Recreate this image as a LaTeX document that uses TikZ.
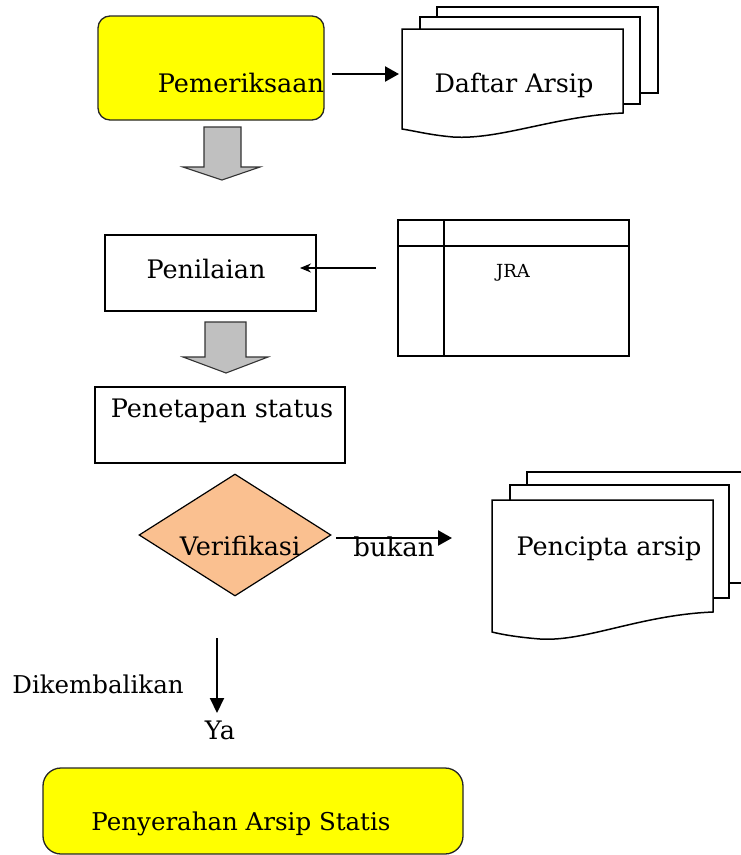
\documentclass[tikz,border=0pt]{standalone}
\usepackage{fontspec}
\setmainfont{DejaVu Serif}
\usepackage{tikz}
\usetikzlibrary{arrows.meta,shapes.geometric}
\usepackage{xcolor}
\definecolor{box_yellow}{HTML}{FFFF00}
\definecolor{peach}{HTML}{FAC090}
\definecolor{block_gray}{HTML}{C0C0C0}
\newcommand{\fsz}[1]{\fontsize{#1}{#1}\selectfont}
\tikzset{
  lbl/.style={inner sep=0pt, anchor=base},
  page/.style={draw, line width=1.5pt, fill=white},
  blockarrow/.style={draw=black!80, line width=1.1pt, fill=block_gray, line join=miter},
  bigarrow/.style={line width=2.4pt, -{Triangle[length=14pt,width=15pt]}},
  thinarrow/.style={line width=1.1pt, -{Stealth[length=11pt,width=9pt]}}
}

\begin{document}
\begin{tikzpicture}[x=1pt, y=-1pt]
	\useasboundingbox (0, 0) rectangle (741, 855);
	% Pemeriksaan
	\node[draw=black!85, line width=1.3pt, fill=box_yellow, rounded corners=12pt, minimum width=226pt, minimum height=104pt] (pem) at (211, 68) {};
	\node[lbl] (pemtxt) at (241, 92) {\fsz{25.5}Pemeriksaan};
	% Daftar Arsip
	\draw[page] (437, 7) rectangle (658, 93);
	\draw[page] (420, 17) rectangle (640, 104);
	\draw[page] (402, 29) -- (623, 29) -- (623, 113) .. controls (555, 116) and (500, 140) .. (453, 137) .. controls (430, 135) and (415, 131) .. (402, 129) -- cycle;
	\node[lbl] (daftar) at (514, 92) {\fsz{25.5}Daftar Arsip};
	\coordinate (pemout) at (332, 74);
	\coordinate (daftarin) at (399, 74);
	\draw[bigarrow] (pemout) -- (daftarin);
	% first block arrow
	\draw[blockarrow] (204, 127) -- (241, 127) -- (241, 167) -- (260, 167) -- (222, 180) -- (183, 167) -- (204, 167) -- cycle;
	% Penilaian and JRA
	\node[draw, line width=1.3pt, minimum width=211pt, minimum height=76pt] (nilai) at (210.5, 273) {};
	\node[lbl] (nilaitxt) at (206, 278) {\fsz{25.5}Penilaian};
	\draw[line width=1.3pt] (398, 220) rectangle (629, 356);
	\draw[line width=1.3pt] (398, 246) -- (629, 246);
	\draw[line width=1.3pt] (444, 220) -- (444, 356);
	\node[lbl] (jra) at (513, 277) {\fsz{18}JRA};
	\coordinate (jraout) at (376, 268);
	\coordinate (nilaiin) at (300, 268);
	\draw[thinarrow] (jraout) -- (nilaiin);
	% second block arrow
	\draw[blockarrow] (205, 322) -- (246, 322) -- (246, 357) -- (268, 357) -- (226, 373) -- (183, 357) -- (205, 357) -- cycle;
	% Penetapan status
	\node[draw, line width=1.3pt, minimum width=250pt, minimum height=76pt] (tetap) at (220, 425) {};
	\node[lbl] (tetaptxt) at (222, 417) {\fsz{25.5}Penetapan status};
	% Verifikasi
	\node[diamond, draw, line width=1.2pt, fill=peach, aspect=1.57, minimum width=192pt, minimum height=122pt, inner sep=0pt] (verif) at (235, 535) {};
	\node[lbl] (veriftxt) at (240, 555) {\fsz{25.5}Verifikasi};
	% Pencipta arsip
	\draw[page] (527, 472) rectangle (760, 583);
	\draw[page] (510, 485) rectangle (729, 598);
	\draw[page] (492, 500) -- (713, 500) -- (713, 612) .. controls (640, 615) and (585, 642) .. (540, 639) .. controls (515, 637) and (500, 634) .. (492, 632) -- cycle;
	\node[lbl] (cipta) at (609, 555) {\fsz{25.5}Pencipta arsip};
	\coordinate (verifout) at (336, 538);
	\coordinate (ciptain) at (452, 538);
	\draw[bigarrow] (verifout) -- (ciptain);
	\node[lbl] (bukan) at (394, 556) {\fsz{26}bukan};
	% Dikembalikan / Ya
	\coordinate (turun) at (217, 638);
	\coordinate (turunend) at (217, 713);
	\draw[line width=2pt, -{Triangle[length=15pt,width=14pt]}] (turun) -- (turunend);
	\node[lbl] (kembali) at (98, 693) {\fsz{24.5}Dikembalikan};
	\node[lbl] (ya) at (220, 739) {\fsz{25.5}Ya};
	% Penyerahan Arsip Statis
	\node[draw=black!85, line width=1.3pt, fill=box_yellow, rounded corners=18pt, minimum width=420pt, minimum height=86pt] (serah) at (253, 811) {};
	\node[lbl] (serahtxt) at (241, 830) {\fsz{24.5}Penyerahan Arsip Statis};
\end{tikzpicture}
\end{document}
